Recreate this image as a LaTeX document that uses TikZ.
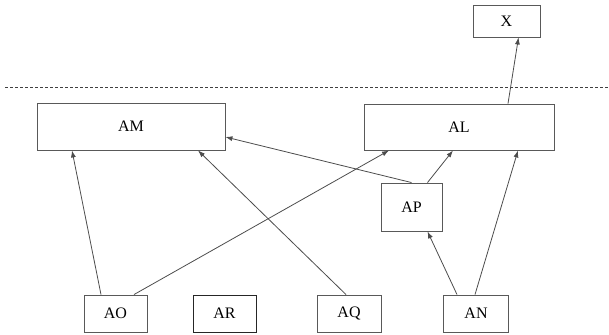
\documentclass[tikz,border=0pt]{standalone}
\usepackage{fontspec}
\setmainfont{Liberation Serif}
\usetikzlibrary{arrows.meta}
\begin{document}
\begin{tikzpicture}[x=1pt,y=-1pt,
  box/.style={draw=black!65,line width=0.9pt,minimum width=#1,inner sep=0pt,font=\fontsize{16}{18}\selectfont},
  conn/.style={draw=black!70,line width=0.8pt,-{Latex[length=7pt,width=5pt]}}]
\useasboundingbox (0,0) rectangle (609,334);
\node[box=67pt,minimum height=32pt] (X) at (506.5,21) {X};
\node[box=188pt,minimum height=47pt] (AM) at (131,126.5) {AM};
\node[box=190pt,minimum height=46pt] (AL) at (459,127) {AL};
\node[box=61pt,minimum height=48pt] (AP) at (411.5,207) {AP};
\node[box=63pt,minimum height=37pt] (AO) at (115.5,313.5) {AO};
\node[box=63pt,minimum height=37pt,draw=black!85] (AR) at (224.5,313.5) {AR};
\node[box=64pt,minimum height=37pt] (AQ) at (349,313.5) {AQ};
\node[box=65pt,minimum height=37pt] (AN) at (476,313.5) {AN};
\coordinate (dl) at (5,87);
\coordinate (dr) at (609,87);
\draw[black!75,line width=0.8pt,dash pattern=on 3pt off 2pt] (dl) -- (dr);
\draw[conn] ([xshift=-14.5pt]AO.north) -- ([xshift=-59pt]AM.south);
\draw[conn] ([xshift=18.5pt]AO.north) -- ([xshift=-70pt]AL.south);
\draw[conn] ([xshift=-3pt]AQ.north) -- ([xshift=67pt]AM.south);
\draw[conn] (AP.north) -- ([yshift=-10.5pt]AM.east);
\draw[conn] ([xshift=16pt]AP.north) -- ([xshift=-6pt]AL.south);
\draw[conn] ([xshift=-19pt]AN.north) -- ([xshift=16pt]AP.south);
\draw[conn] ([xshift=-1pt]AN.north) -- ([xshift=59pt]AL.south);
\draw[conn] ([xshift=49pt]AL.north) -- ([xshift=12pt]X.south);
\end{tikzpicture}
\end{document}
